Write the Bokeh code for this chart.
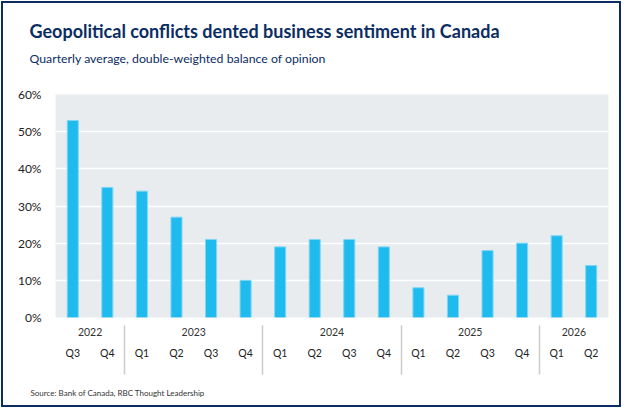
import numpy as np
from bokeh.plotting import figure
from bokeh.models import (LinearAxis, FixedTicker, Title, Range1d, ColumnDataSource)
from bokeh.embed import file_html
from bokeh.resources import INLINE

# ---- data ----
years = ["2022", "2022", "2023", "2023", "2023", "2023", "2024", "2024",
         "2024", "2024", "2025", "2025", "2025", "2025", "2026", "2026"]
quarters = ["Q3", "Q4", "Q1", "Q2", "Q3", "Q4", "Q1", "Q2",
            "Q3", "Q4", "Q1", "Q2", "Q3", "Q4", "Q1", "Q2"]
values = [53, 35, 34, 27, 21, 10, 19, 21, 21, 19, 8, 6, 18, 20, 22, 14]
y_ticks = [0, 10, 20, 30, 40, 50, 60]

TITLE = "Geopolitical conflicts dented business sentiment in Canada"
SUBTITLE = "Quarterly average, double-weighted balance of opinion"
SOURCE = "Source: Bank of Canada, RBC Thought Leadership"

FONT = "Lato"
NAVY = "#0b2d63"

n = len(values)
xs = np.arange(n) + 0.5

# year groups
uniq = []
for y in years:
    if y not in uniq:
        uniq.append(y)
year_centers = []
boundaries = []
for y in uniq:
    idx = [i for i, v in enumerate(years) if v == y]
    year_centers.append((idx[0] + idx[-1] + 1) / 2)
    if idx[0] > 0:
        boundaries.append(idx[0])

p = figure(width=620, height=406, output_backend="svg", toolbar_location=None,
           title=None,
           x_range=Range1d(0, n), y_range=Range1d(0, 60),
           x_axis_location=None, y_axis_location=None,
           min_border_left=52, min_border_right=15,
           min_border_top=91, min_border_bottom=92)
p.styles = {"border": "2px solid " + NAVY, "margin-left": "1px", "margin-top": "1px"}
p.background_fill_color = "#e8ecef"
p.border_fill_color = "white"
p.outline_line_color = None

src = ColumnDataSource(dict(x=xs, top=values))
p.vbar(x="x", top="top", width=0.32, source=src, fill_color="#1fbbee",
       line_color="#7fd6f5", line_width=1)

# y axis
yax = LinearAxis(ticker=FixedTicker(ticks=y_ticks),
                 major_label_overrides={t: f"{t}%" for t in y_ticks})
yax.axis_line_color = None
yax.major_tick_line_color = None
yax.minor_tick_line_color = None
yax.major_label_standoff = 8
yax.major_label_text_baseline = "alphabetic"
yax.major_label_text_font = FONT
yax.major_label_text_font_size = "12px"
yax.major_label_text_color = "#222222"
p.add_layout(yax, "left")

p.xgrid.visible = False
p.ygrid.ticker = FixedTicker(ticks=y_ticks)
p.ygrid.grid_line_color = "white"
p.ygrid.grid_line_width = 1.5

# year axis (closest to plot) with separators as minor ticks
yr_ax = LinearAxis(ticker=FixedTicker(ticks=year_centers, minor_ticks=boundaries),
                   major_label_overrides={c: y for c, y in zip(year_centers, uniq)})
yr_ax.axis_line_color = None
yr_ax.major_tick_line_color = None
yr_ax.major_tick_out = 0
yr_ax.major_tick_in = 0
yr_ax.minor_tick_line_color = "#cccccc"
yr_ax.minor_tick_line_width = 1.5
yr_ax.minor_tick_in = -57
yr_ax.minor_tick_out = 8
yr_ax.major_label_standoff = 2
yr_ax.major_label_text_font = FONT
yr_ax.major_label_text_font_size = "10.5px"
yr_ax.major_label_text_color = "#333333"
p.add_layout(yr_ax, "below")

q_ax = LinearAxis(ticker=FixedTicker(ticks=list(xs)),
                  major_label_overrides={float(x): q for x, q in zip(xs, quarters)})
q_ax.axis_line_color = None
q_ax.major_tick_line_color = None
q_ax.minor_tick_line_color = None
q_ax.major_tick_out = 0
q_ax.major_tick_in = 0
q_ax.major_label_standoff = 8
q_ax.major_label_text_font = FONT
q_ax.major_label_text_font_size = "10.5px"
q_ax.major_label_text_color = "#222222"
p.add_layout(q_ax, "below")


def spacer(size):
    ax = LinearAxis(ticker=FixedTicker(ticks=[0]), major_label_overrides={0: ""})
    ax.axis_line_color = None
    ax.major_tick_line_color = None
    ax.minor_tick_line_color = None
    ax.major_tick_in = 0
    ax.major_tick_out = size
    ax.minor_tick_out = 0
    ax.major_label_standoff = 0
    ax.major_label_text_font_size = "1px"
    return ax


# invisible spacer between the frame and the subtitle
p.add_layout(spacer(27), "above")
p.add_layout(Title(text=SUBTITLE, align="left", offset=-26, standoff=4,
                   text_font=FONT, text_font_style="normal",
                   text_font_size="12.3px", text_color=NAVY), "above")
p.add_layout(Title(text=TITLE, align="left", offset=-26, standoff=9,
                   text_font=FONT, text_font_style="bold",
                   text_font_size="18px", text_color=NAVY), "above")

p.add_layout(spacer(22), "below")
p.add_layout(Title(text=SOURCE, align="left", offset=-25, standoff=4,
                   text_font=FONT, text_font_style="normal",
                   text_font_size="8px", text_color="#333333"), "below")

open("out.html", "w").write(file_html(p, INLINE))
